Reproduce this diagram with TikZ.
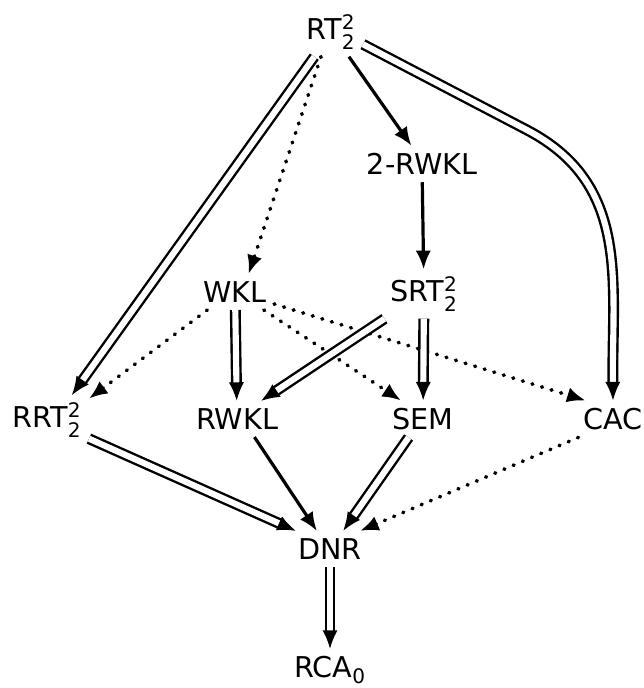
\documentclass[tikz,border=0pt]{standalone}
\usepackage{amsmath}
\usepackage{fontspec}
\setmainfont{DejaVu Sans}
\usetikzlibrary{arrows.meta}

\newcommand{\ts}[2]{$^{\text{#1}}_{\text{#2}}$}

\tikzset{
	every node/.style={font=\fontsize{21.5}{25}\selectfont, inner sep=5.5pt},
	arr/.style={line width=2.4pt, -{Latex[length=14pt,width=11.5pt]}},
	darr/.style={double, line width=1.8pt, double distance=4.6pt, -{Latex[length=14pt,width=11.5pt]}},
	dotarr/.style={line width=2.8pt, line cap=round, dash pattern=on 0.6pt off 6.9pt, -{Latex[length=14pt,width=11.5pt]}},
}

\begin{document}
\begin{tikzpicture}[x=0.75pt,y=0.75pt,yscale=-1,xscale=1]
		\useasboundingbox (0,0) rectangle (643,688);
		
		% Nodes
		\node (rt) at (331,32) {RT\ts22};
		\node (two) at (422,164) {2-RWKL};
		\node (wkl) at (235,292) {WKL};
		\node (srt) at (424,294) {SRT\ts22};
		\node (rrt) at (47,420) {RRT\ts22};
		\node (rwkl) at (237,419) {RWKL};
		\node (sem) at (423,419) {SEM};
		\node (cac) at (613,419) {CAC};
		\node (dnr) at (330,549) {DNR};
		\node (rca) at (330,670) {RCA$_{\text{0}}$};
		
		% From RT
		\draw [darr] (rt.236) -- (rrt.45);
		\draw [dotarr] (rt.248) -- (wkl.53);
		\draw [arr] (rt.306) -- (two.120);
		\draw [darr] (rt.339) -- (527,130) .. controls (630,184) and (612,280) .. (cac.north);
		
		% Middle rows
		\draw [arr] (two) -- (srt);
		\draw [dotarr] (wkl.213) -- (rrt.27);
		\draw [darr] (wkl) -- (rwkl);
		\draw [dotarr] (wkl.328) -- (sem.140);
		\draw [dotarr] (wkl.343) -- (cac.146);
		\draw [darr] (srt.212) -- (rwkl.37);
		\draw [darr] (srt) -- (sem);
		
		% Into DNR
		\draw [darr] (rrt.336) -- (dnr.152);
		\draw [arr] (rwkl.314) -- (dnr.126);
		\draw [darr] (sem.232) -- (dnr.54);
		\draw [dotarr] (cac.208) -- (dnr.31);
		\draw [darr] (dnr) -- (rca);
		
\end{tikzpicture}
\end{document}
